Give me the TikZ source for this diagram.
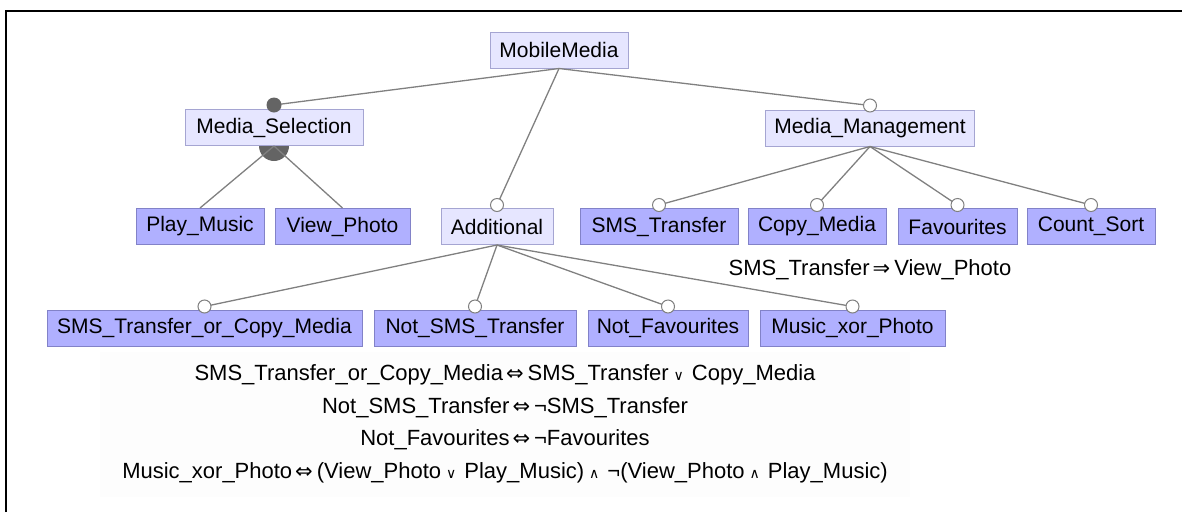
\documentclass[tikz,border=0pt]{standalone}
\usepackage{fontspec}
\setmainfont{Liberation Sans}
\newfontfamily\symfont{DejaVu Sans}

\definecolor{abstfill}{RGB}{230,230,255}
\definecolor{abstline}{RGB}{165,165,210}
\definecolor{concfill}{RGB}{176,176,255}
\definecolor{concline}{RGB}{130,130,200}
\definecolor{edgegray}{RGB}{128,128,128}
\definecolor{dotgray}{RGB}{100,100,100}
\definecolor{ctbg}{RGB}{253,253,253}

% logical symbols used in the constraints
\newcommand\symEqv{\hspace{3pt}{\symfont\fontsize{21}{21}\selectfont ⇔}\hspace{4pt}}
\newcommand\symImp{\hspace{3pt}{\symfont\fontsize{21}{21}\selectfont ⇒}\hspace{4pt}}
\newcommand\symOr{\hspace{5pt}{\symfont\fontsize{14}{14}\selectfont ∨}\hspace{8pt}}
\newcommand\symAnd{\hspace{5pt}{\symfont\fontsize{14}{14}\selectfont ∧}\hspace{8pt}}

\begin{document}
\begin{tikzpicture}[x=1pt,y=-1pt,
  feat/.style={draw, line width=1pt, minimum height=36pt, inner sep=0pt,
    font=\fontsize{21}{24}\selectfont, text=black},
  abst/.style={feat, fill=abstfill, draw=abstline},
  conc/.style={feat, fill=concfill, draw=concline},
  optional/.style={circle, draw=edgegray, line width=1pt, fill=white,
    minimum size=13pt, inner sep=0pt},
  mandatory/.style={circle, fill=dotgray, minimum size=15pt, inner sep=0pt},
  edge/.style={draw=edgegray, line width=1.3pt},
  constraint/.style={font=\fontsize{22}{25}\selectfont, text=black, inner sep=0pt}
]
\useasboundingbox (0,0) rectangle (1182,512);

% frame
\draw[line width=2pt] (6,512) -- (6,11) -- (1182,11);

% constraint panel
\fill[ctbg] (100,352) rectangle (910,497);

% features
\node[abst, minimum width=138pt] (mm)  at (559,50)    {MobileMedia};
\node[abst, minimum width=178pt] (sel) at (274,127.5) {Media\_Selection};
\node[abst, minimum width=209pt] (man) at (870,128)   {Media\_Management};

\node[conc, minimum width=128pt] (play)  at (200,226.5)   {Play\_Music};
\node[conc, minimum width=135pt] (view)  at (342.5,226.5) {View\_Photo};
\node[abst, minimum width=112pt] (add)   at (497,226.5)   {Additional};
\node[conc, minimum width=158pt] (sms)   at (659,226.5)   {SMS\_Transfer};
\node[conc, minimum width=138pt] (copy)  at (817,226.5)   {Copy\_Media};
\node[conc, minimum width=119pt] (fav)   at (957.5,226.5) {Favourites};
\node[conc, minimum width=128pt] (count) at (1091,226.5)  {Count\_Sort};

\node[conc, minimum width=315pt] (smsor)  at (204.5,328) {SMS\_Transfer\_or\_Copy\_Media};
\node[conc, minimum width=202pt] (notsms) at (475,328)   {Not\_SMS\_Transfer};
\node[conc, minimum width=160pt] (notfav) at (668,328)   {Not\_Favourites};
\node[conc, minimum width=185pt] (mxp)    at (852.5,328) {Music\_xor\_Photo};

% group marker below Media_Selection
\fill[dotgray] (sel.south) ++(-15,0) arc[start angle=180, end angle=360, radius=15pt] -- cycle;

% connectors (end points lie under the markers drawn afterwards)
\path[edge] (mm.south) -- ([yshift=4pt]sel.north);
\path[edge] (mm.south) -- ([yshift=3pt]add.north);
\path[edge] (mm.south) -- ([yshift=4pt]man.north);
\path[edge] (sel.south) -- (play.north);
\path[edge] (sel.south) -- (view.north);
\foreach \c in {sms,copy,fav,count}
  \path[edge] (man.south) -- ([yshift=3pt]\c.north);
\foreach \c in {smsor,notsms,notfav,mxp}
  \path[edge] (add.south) -- ([yshift=3pt]\c.north);

% markers on top of the child features
\node[mandatory] (dSel) at ([yshift=4pt]sel.north) {};
\node[optional]  (oMan) at ([yshift=4pt]man.north) {};
\foreach \c in {add,sms,copy,fav,count,smsor,notsms,notfav,mxp}
  \node[optional] (o\c) at ([yshift=3pt]\c.north) {};

% cross-tree constraints
\node[constraint] (k0) at (870,270) {SMS\_Transfer\symImp View\_Photo};
\node[constraint] (k1) at (505,375) {SMS\_Transfer\_or\_Copy\_Media\symEqv SMS\_Transfer\symOr Copy\_Media};
\node[constraint] (k2) at (505,408) {Not\_SMS\_Transfer\symEqv ¬SMS\_Transfer};
\node[constraint] (k3) at (505,440) {Not\_Favourites\symEqv ¬Favourites};
\node[constraint] (k4) at (505,473) {Music\_xor\_Photo\symEqv (View\_Photo\symOr Play\_Music)\symAnd ¬(View\_Photo\symAnd Play\_Music)};
\end{tikzpicture}
\end{document}
